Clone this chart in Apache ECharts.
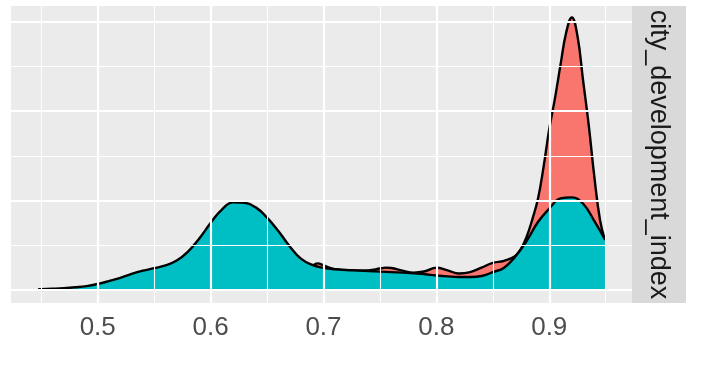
<!DOCTYPE html>
<html>
<head>
<meta charset="utf-8">
<script src="https://cdn.jsdelivr.net/npm/echarts@6/dist/echarts.min.js"></script>
<style>
html,body{margin:0;padding:0;background:#fff;}
#chart{width:717px;height:374px;}
</style>
</head>
<body>
<div id="chart"></div>
<script>
// ---- data (density estimates) ----
// group shown in red (target 0)
const redX = [0.4474, 0.45, 0.46, 0.47, 0.48, 0.49, 0.50, 0.51, 0.52, 0.53, 0.54, 0.55, 0.56, 0.57, 0.58, 0.59, 0.60, 0.61, 0.62, 0.63, 0.64, 0.65, 0.66, 0.67, 0.68, 0.69, 0.695, 0.70, 0.71, 0.72, 0.73, 0.74, 0.75, 0.755, 0.76, 0.77, 0.78, 0.79, 0.80, 0.81, 0.82, 0.83, 0.84, 0.85, 0.86, 0.87, 0.875, 0.88, 0.885, 0.89, 0.895, 0.90, 0.905, 0.91, 0.915, 0.92, 0.925, 0.93, 0.935, 0.94, 0.945, 0.9493];
const redY = [0.01, 0.02, 0.03, 0.05, 0.07, 0.09, 0.12, 0.16, 0.22, 0.28, 0.34, 0.40, 0.48, 0.56, 0.65, 0.74, 0.82, 0.88, 0.92, 0.94, 0.95, 0.96, 0.98, 1.02, 1.12, 1.36, 1.49, 1.38, 1.16, 1.10, 1.08, 1.10, 1.20, 1.25, 1.23, 1.08, 0.97, 1.05, 1.24, 1.10, 0.92, 1.00, 1.25, 1.52, 1.63, 1.90, 2.30, 2.98, 3.95, 5.10, 6.90, 9.00, 10.70, 12.60, 14.40, 15.24, 14.20, 11.70, 9.20, 6.30, 3.90, 2.80];
// group shown in teal (target 1)
const tealX = [0.4474, 0.45, 0.46, 0.47, 0.48, 0.49, 0.50, 0.51, 0.52, 0.53, 0.54, 0.55, 0.56, 0.57, 0.58, 0.59, 0.60, 0.61, 0.62, 0.63, 0.64, 0.65, 0.66, 0.67, 0.68, 0.69, 0.70, 0.71, 0.72, 0.73, 0.74, 0.75, 0.76, 0.77, 0.78, 0.79, 0.80, 0.81, 0.82, 0.83, 0.84, 0.85, 0.86, 0.87, 0.88, 0.89, 0.90, 0.91, 0.92, 0.93, 0.94, 0.9496];
const tealY = [0.04, 0.05, 0.07, 0.10, 0.15, 0.22, 0.34, 0.50, 0.68, 0.90, 1.08, 1.22, 1.38, 1.65, 2.15, 2.88, 3.75, 4.50, 4.90, 4.88, 4.62, 4.05, 3.30, 2.45, 1.75, 1.40, 1.24, 1.16, 1.12, 1.09, 1.06, 1.03, 1.00, 0.97, 0.94, 0.88, 0.81, 0.76, 0.73, 0.73, 0.78, 1.00, 1.25, 1.88, 2.75, 3.80, 4.55, 5.12, 5.18, 4.82, 3.85, 2.80];
// axis ticks
const xMajorTicks = [0.5, 0.6, 0.7, 0.8, 0.9];
const xMinorTicks = [0.45, 0.55, 0.65, 0.75, 0.85, 0.95];
const yMajorTicks = [0, 5, 10, 15];
const yMinorTicks = [2.5, 7.5, 12.5];
const facetLabel = 'city_development_index';

const zip = (xs, ys) => xs.map((x, i) => [x, ys[i]]);

const chart = echarts.init(document.getElementById('chart'), null, {renderer: 'canvas'});
const FONT = '"Liberation Sans", Arial, sans-serif';

const gridLines = []
  .concat(xMinorTicks.map(v => ({xAxis: v, lineStyle: {width: 1.1}})))
  .concat(yMinorTicks.map(v => ({yAxis: v, lineStyle: {width: 1.1}})))
  .concat(xMajorTicks.map(v => ({xAxis: v, lineStyle: {width: 2.2}})))
  .concat(yMajorTicks.map(v => ({yAxis: v, lineStyle: {width: 2.2}})));

chart.setOption({
  animation: false,
  backgroundColor: '#ffffff',
  grid: {
    left: 11, right: 85, top: 6, bottom: 71,
    show: true, backgroundColor: '#EBEBEB', borderWidth: 0
  },
  xAxis: {
    type: 'value', min: 0.4232, max: 0.9733,
    axisLine: {show: false},
    splitLine: {show: false},
    axisTick: {show: true, customValues: xMajorTicks, length: 7, lineStyle: {color: '#333333', width: 2}},
    axisLabel: {customValues: xMajorTicks, color: '#4D4D4D', fontSize: 26, fontFamily: FONT, margin: 12,
      formatter: v => v.toFixed(1)}
  },
  yAxis: {
    type: 'value', min: -0.727, max: 15.88, show: false,
    splitLine: {show: false}
  },
  series: [
    {
      type: 'line', z: 1, data: [[0.5, 0]], symbol: 'none', silent: true,
      lineStyle: {opacity: 0},
      markLine: {
        silent: true, symbol: ['none', 'none'], label: {show: false}, animation: false,
        lineStyle: {color: '#ffffff', type: 'solid'},
        emphasis: {disabled: true},
        data: gridLines
      }
    },
    {
      name: '0', type: 'line', z: 2, data: zip(redX, redY), symbol: 'none', smooth: 0.45,
      lineStyle: {color: '#000000', width: 2.4},
      areaStyle: {color: '#F8766D', opacity: 1, origin: 0}
    },
    {
      name: '1', type: 'line', z: 3, data: zip(tealX, tealY), symbol: 'none', smooth: 0.45,
      lineStyle: {color: '#000000', width: 2.4},
      areaStyle: {color: '#00BFC4', opacity: 1, origin: 0}
    }
  ],
  graphic: [
    {type: 'rect', shape: {x: 632, y: 6, width: 54, height: 297}, style: {fill: '#D9D9D9'}, silent: true},
    {type: 'text', x: 658, y: 154.5, rotation: -Math.PI / 2,
      style: {text: facetLabel, fill: '#1A1A1A', font: '27px ' + FONT, textAlign: 'center', textVerticalAlign: 'middle'},
      silent: true}
  ]
});
</script>
</body>
</html>
